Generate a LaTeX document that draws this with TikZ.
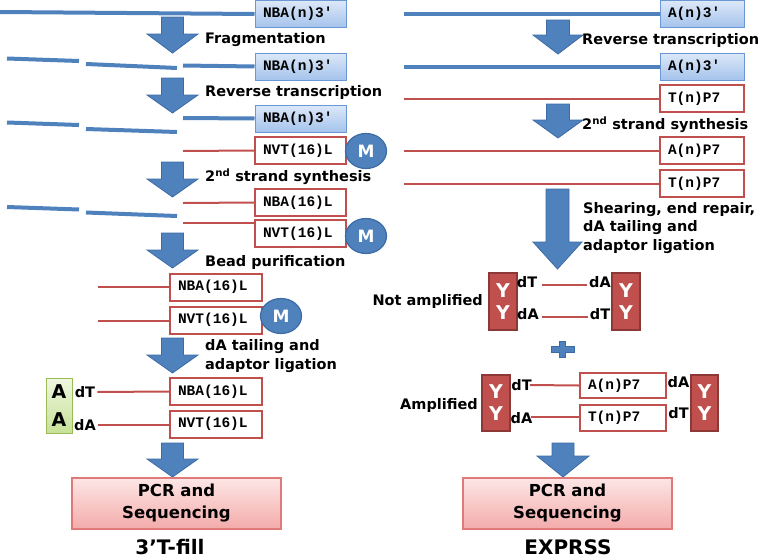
\documentclass[tikz,border=0pt]{standalone}
\usepackage{fontspec}
\setmainfont{DejaVu Sans}
\newfontfamily\monof{Liberation Mono}
\usetikzlibrary{shapes.geometric}
\definecolor{blu}{HTML}{4F81BD}
\definecolor{redc}{HTML}{C0504D}
\definecolor{bbord}{HTML}{6A98D4}
\definecolor{btop}{HTML}{DCE8F8}
\definecolor{bbot}{HTML}{A5C3EC}
\definecolor{arrbord}{HTML}{3D6BA5}
\definecolor{ybord}{HTML}{8C3836}
\definecolor{ptop}{HTML}{FDE6E6}
\definecolor{pbot}{HTML}{F3ABAA}
\definecolor{pbord}{HTML}{E07A78}
\definecolor{gtop}{HTML}{EFF7E0}
\definecolor{gbot}{HTML}{C6E196}
\definecolor{gbord}{HTML}{9BBB59}
\newcommand{\MyDArrow}[6]{\draw[arrowshape] ({#1-#5},#2) -- ({#1+#5},#2) -- ({#1+#5},#3) -- ({#1+#6},#3) -- (#1,#4) -- ({#1-#6},#3) -- ({#1-#5},#3) -- cycle;}
\begin{document}
\begin{tikzpicture}[x=1pt,y=-1pt,
 bl/.style={draw=blu,line width=4pt},
 rl/.style={draw=redc,line width=2pt},
 mono/.style={font=\fontsize{14.5}{16}\selectfont\monof\bfseries},
 bbox/.style={mono,draw=bbord,line width=1pt,top color=btop,bottom color=bbot,minimum height=27pt,text width=75pt,inner xsep=8pt,inner ysep=0pt,align=left},
 rbox/.style={mono,draw=redc,line width=2pt,fill=white,minimum height=27pt,text width=75pt,inner xsep=8pt,inner ysep=0pt,align=left},
 lbl/.style={font=\fontsize{14.5}{18.5}\selectfont\bfseries,anchor=west,align=left,inner sep=0pt},
 small/.style={font=\fontsize{14.5}{17}\selectfont\bfseries,inner sep=0pt},
 mcirc/.style={ellipse,draw=arrbord,line width=1.2pt,fill=blu,minimum width=41pt,minimum height=35pt,inner sep=0pt,text=white,font=\fontsize{17}{17}\selectfont\bfseries},
 ybox/.style={draw=ybord,line width=1.2pt,fill=redc,minimum width=28pt,minimum height=57pt,inner sep=0pt,text=white,align=center,font=\fontsize{19}{22}\selectfont\bfseries},
 gbox/.style={draw=gbord,line width=1pt,top color=gtop,bottom color=gbot,minimum width=26pt,minimum height=55pt,inner sep=0pt,align=center,font=\fontsize{19}{28}\selectfont\bfseries},
 pcr/.style={draw=pbord,line width=1.2pt,top color=ptop,bottom color=pbot,minimum width=209pt,minimum height=51pt,align=center,font=\fontsize{16.5}{22}\selectfont\bfseries},
 title/.style={font=\fontsize{20}{22}\selectfont\bfseries,inner sep=0pt},
 arrowshape/.style={fill=blu,draw=arrbord,line width=0.8pt,line join=miter}]
\useasboundingbox (0,0) rectangle (761,560);

% ---------- left column ----------
\node[bbox] (L1) at (300.5,14) {NBA(n)3′};
\coordinate (l1) at (0,12);
\draw[bl] (l1) -- (L1.west);
\MyDArrow{172.5}{17}{34}{53}{11}{25.5}
\node[lbl] (f1) at (205,40) {Fragmentation};

\node[bbox] (L2) at (300.5,66.5) {NBA(n)3′};
\draw[bl] (7,58.5) -- (79,61);
\draw[bl] (86,64) -- (177,68);
\coordinate (l2) at (183,65.5);
\draw[bl] (l2) -- (L2.west);
\MyDArrow{172.5}{78}{95}{113}{11}{25.5}
\node[lbl] (f2) at (205,92) {Reverse transcription};

\node[bbox] (L3) at (300.5,118.5) {NBA(n)3′};
\coordinate (l3) at (183,118);
\draw[bl] (l3) -- (L3.west);
\draw[bl] (7,122.5) -- (79,125);
\draw[bl] (86,129) -- (177,132);
\node[rbox] (L4) at (300.5,150.5) {NVT(16)L};
\coordinate (l4) at (183,151);
\draw[rl] (l4) -- (L4.west);
\node[mcirc] (M1) at (366,151) {M};
\MyDArrow{172.5}{162}{179}{197}{11}{25.5}
\node[lbl] (f3) at (205,177) {2\textsuperscript{nd} strand synthesis};

\node[rbox] (L5) at (300.5,202.5) {NBA(16)L};
\coordinate (l5) at (183,203);
\draw[rl] (l5) -- (L5.west);
\draw[bl] (7,207) -- (79,209.5);
\draw[bl] (86,212.5) -- (177,216);
\node[rbox] (L6) at (300.5,233.5) {NVT(16)L};
\coordinate (l6) at (183,223);
\draw[rl] (l6) -- ([yshift=10.5pt]L6.west);
\node[mcirc] (M2) at (366,236) {M};
\MyDArrow{172.5}{233}{250}{268}{11}{25.5}
\node[lbl] (f4) at (205,262) {Bead purification};

\node[rbox,text width=76pt] (B1) at (216,287) {NBA(16)L};
\coordinate (b1) at (98,287);
\draw[rl] (b1) -- (B1.west);
\node[rbox,text width=76pt] (B2) at (216,320) {NVT(16)L};
\coordinate (b2) at (98,321);
\draw[rl] (b2) -- ([yshift=-1pt]B2.west);
\node[mcirc] (M3) at (281,316) {M};
\MyDArrow{172.5}{338}{355}{373}{11}{25.5}
\node[lbl] (f5) at (205,356) {dA tailing and\\adaptor ligation};

\node[rbox,text width=76pt] (C1) at (216,391.5) {NBA(16)L};
\node[rbox,text width=76pt] (C2) at (216,424) {NVT(16)L};
\node[gbox] (G) at (59,405.5) {A\\A};
\node[small] (dT1) at (85,392) {dT};
\node[small] (dA1) at (85,425) {dA};
\draw[rl] ([xshift=2pt]dT1.east) -- (C1.west);
\draw[rl] ([xshift=2pt]dA1.east) -- ([yshift=-1pt]C2.west);
\MyDArrow{172.5}{443}{459}{477}{11}{25.5}
\node[pcr] (P1) at (176.5,503.5) {PCR and\\Sequencing};
\node[title] (T1) at (170,547) {3’T-fill};

% ---------- right column ----------
\node[bbox,text width=68pt] (R1) at (702,14) {A(n)3′};
\coordinate (r1) at (404,14);
\draw[bl] (r1) -- (R1.west);
\MyDArrow{558}{20}{35}{54}{11.5}{25}
\node[lbl] (g1) at (582,40) {Reverse transcription};
\node[bbox,text width=68pt] (R2) at (702,66.5) {A(n)3′};
\coordinate (r2) at (404,66.5);
\draw[bl] (r2) -- (R2.west);
\node[rbox,text width=68pt] (R3) at (702,98.5) {T(n)P7};
\coordinate (r3) at (404,98.5);
\draw[rl] (r3) -- (R3.west);
\MyDArrow{558}{104}{120}{138}{11.5}{25}
\node[lbl] (g2) at (582,125) {2\textsuperscript{nd} strand synthesis};
\node[rbox,text width=68pt] (R4) at (702,150.5) {A(n)P7};
\coordinate (r4) at (404,150.5);
\draw[rl] (r4) -- (R4.west);
\node[rbox,text width=68pt] (R5) at (702,183.5) {T(n)P7};
\coordinate (r5) at (404,183.5);
\draw[rl] (r5) -- (R5.west);
\MyDArrow{557.5}{189}{242}{269}{11.5}{24.5}
\node[lbl] (g3) at (583,228) {Shearing, end repair,\\dA tailing and\\adaptor ligation};

% not amplified
\node[ybox] (Y1) at (503,301.5) {Y\\Y};
\node[ybox] (Y2) at (626,301.5) {Y\\Y};
\node[small,anchor=east] (na) at (483,301) {Not amplified};
\node[small] (n1) at (527,282) {dT};
\node[small] (n2) at (600,282) {dA};
\node[small] (n3) at (528,314) {dA};
\node[small] (n4) at (600,314) {dT};
\draw[rl] ([xshift=5pt,yshift=-3pt]n1.east) -- ([xshift=-2pt,yshift=-3pt]n2.west);
\draw[rl] ([xshift=3pt,yshift=-3pt]n3.east) -- ([xshift=-2pt,yshift=-3pt]n4.west);
% plus
\fill[blu,draw=arrbord,line width=0.6pt] (551,346) -- (559,346) -- (559,341) -- (565,341) -- (565,346) -- (574,346) -- (574,352) -- (565,352) -- (565,357) -- (559,357) -- (559,352) -- (551,352) -- cycle;

% amplified
\node[ybox,minimum height=56pt] (Y3) at (496,403) {Y\\Y};
\node[ybox,minimum height=56pt,minimum width=27pt] (Y4) at (704.5,403) {Y\\Y};
\node[small,anchor=east] (am) at (478,405) {Amplified};
\node[rbox,text width=70pt,minimum height=25pt] (S1) at (623,385.5) {A(n)P7};
\node[rbox,text width=70pt,minimum height=26pt] (S2) at (623,418) {T(n)P7};
\node[small] (a1) at (521.5,385) {dT};
\node[small] (a2) at (521.5,418) {dA};
\node[small] (a3) at (678.5,382) {dA};
\node[small] (a4) at (678.5,413) {dT};
\draw[rl] ([xshift=-2pt]a1.east) -- (S1.west);
\draw[rl] ([xshift=-2pt,yshift=1pt]a2.east) -- ([yshift=1pt]S2.west);
\MyDArrow{563}{443}{456}{477}{11}{26}
\node[pcr] (P2) at (567.5,503.5) {PCR and\\Sequencing};
\node[title] (T2) at (568,547) {EXPRSS};
\end{tikzpicture}
\end{document}
